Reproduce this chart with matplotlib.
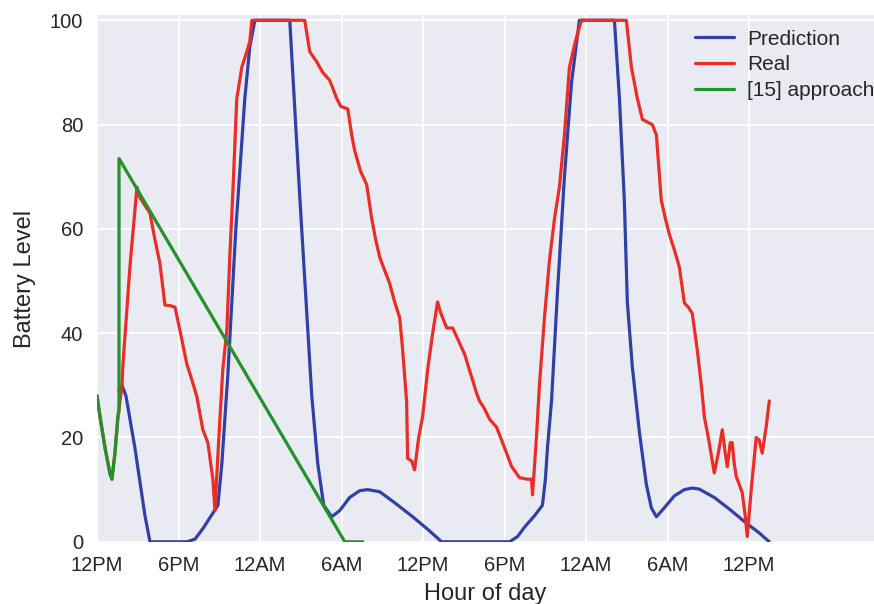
import matplotlib
matplotlib.use("Agg")
import matplotlib.pyplot as plt
import seaborn as sns

sns.set_style("darkgrid")
plt.rcParams['font.family'] = ['Liberation Sans', 'DejaVu Sans']

# Data (hours since 12PM on day 1)
pred_h = [1.6, 1.84, 2.13, 2.79, 3.53, 3.90, 6.62, 7.21, 7.79, 8.53, 8.90, 9.19, 9.63, 10.22,
          10.88, 11.25, 11.62, 14.19, 14.93, 15.81, 16.25, 16.69, 17.28, 17.87, 18.60, 19.34,
          19.93, 20.81, 21.91, 23.24, 24.34, 25.37, 30.37, 30.96, 31.47, 32.21, 32.79, 33.01,
          33.16, 33.46, 33.90, 34.41, 34.93, 35.51, 38.09, 38.46, 38.82, 39.04, 39.41, 39.93,
          40.44, 40.81, 41.18, 41.76, 42.50, 43.24, 43.82, 44.34, 45.44, 46.54, 47.79, 48.75, 49.49]
pred_v = [29, 30, 28, 18, 5, 0, 0, 0.5, 2.5, 5.5, 7, 15, 32, 60,
          85, 95, 100, 100, 66, 28, 15, 7, 4.8, 6, 8.5, 9.8,
          10, 9.6, 7.5, 4.8, 2.4, 0, 0, 1, 2.8, 5, 7, 12,
          18, 27, 48, 70, 88, 100, 100, 85, 65.5, 46, 33.5, 21,
          11, 6.5, 4.8, 6.5, 8.8, 10, 10.3, 10.1, 8.5, 6.3, 3.6, 1.7, 0]

real_h = [0, 0.22, 0.59, 0.96, 1.10, 1.32, 1.54, 1.69, 1.84, 1.91, 2.43, 2.94, 3.16, 3.53,
          3.90, 4.26, 4.63, 5.00, 5.37, 5.74, 6.10, 6.62, 6.99, 7.35, 7.79, 8.16, 8.53, 8.68,
          8.97, 9.26, 9.56, 9.78, 10.0, 10.29, 10.66, 11.03, 11.25, 11.40, 15.29, 15.66, 16.18,
          16.62, 17.13, 17.65, 17.94, 18.46, 18.75, 18.97, 19.41, 19.85, 20.22, 20.51, 20.81,
          21.18, 21.54, 21.91, 22.28, 22.50, 22.79, 22.87, 23.16, 23.38, 23.68, 23.97, 24.34,
          24.71, 25.07, 25.29, 25.74, 26.18, 26.62, 27.06, 27.35, 27.65, 27.94, 28.16, 28.53,
          28.90, 29.41, 29.78, 30.15, 30.51, 31.10, 31.69, 31.99, 32.06, 32.35, 32.57, 32.94,
          33.31, 33.68, 34.04, 34.41, 34.78, 35.22, 35.66, 38.97, 39.34, 39.78, 40.15, 40.51,
          40.88, 41.18, 41.54, 41.84, 42.13, 42.50, 42.87, 43.24, 43.53, 43.82, 44.19, 44.49,
          44.71, 45.07, 45.44, 45.74, 46.03, 46.25, 46.40, 46.62, 46.76, 46.91, 47.06, 47.28,
          47.50, 47.72, 47.87, 48.16, 48.53, 48.75, 48.97, 49.26, 49.49]
real_v = [28, 24, 18, 13, 12, 17, 24, 27, 30, 34, 53, 68, 66, 64.5,
          63, 58, 53.4, 45.4, 45.3, 45, 40.6, 34, 31, 27.8, 21.5, 19, 12, 6,
          20, 33, 40.6, 55, 67, 85, 91, 94, 96, 100, 100, 94, 92,
          90, 88.5, 85, 83.5, 83, 78, 75, 71, 68.5, 62, 58, 54.6,
          52, 49.6, 46, 43, 36.8, 27, 16, 15.5, 13.8, 20, 24, 33,
          40, 46, 44, 41, 41, 38.5, 36, 33.5, 31, 28.5, 27, 25.5,
          23.5, 22, 19.5, 17, 14.5, 12.3, 12, 12, 9, 20, 30, 43,
          54, 62, 68, 78, 91, 96, 100, 100, 91, 85, 81, 80.5,
          80, 78, 65.5, 62, 59, 56, 52.7, 45.8, 45, 43.8, 36.8, 30,
          24, 19, 13.2, 17, 21.5, 17, 14.4, 19, 19, 15, 12.5, 11,
          9.4, 5, 1, 10, 20, 19.5, 17, 22, 27]

base_h = [0, 0.22, 0.59, 0.96, 1.10, 1.32, 1.54, 1.62, 1.62, 18.24, 19.56]
base_v = [28, 24, 18, 13, 12, 17, 24, 25, 73.5, 0, 0]

tick_pos = [0, 6, 12, 18, 24, 30, 36, 42, 48]
tick_lab = ['12PM', '6PM', '12AM', '6AM', '12PM', '6PM', '12AM', '6AM', '12PM']

fig = plt.figure(figsize=(8.74, 6.04), dpi=100)
ax = fig.add_axes([0.111, 0.103, 0.889, 0.872])
ax.set_facecolor('#EAEAF2')

lw = 2.3
ax.plot(pred_h, pred_v, color='#3140a8', lw=lw, label='Prediction')
ax.plot(real_h, real_v, color='#ec2d26', lw=lw, label='Real')
ax.plot(base_h, base_v, color='#22922a', lw=lw, label='[15] approach')

ax.set_xlim(0, 57.2)
ax.set_ylim(0, 101)
ax.set_xticks(tick_pos)
ax.set_xticklabels(tick_lab)
ax.set_yticks([0, 20, 40, 60, 80, 100])
ax.tick_params(axis='both', labelsize=14.5, pad=10, length=0)
ax.set_xlabel('Hour of day', fontsize=17, labelpad=6)
ax.set_ylabel('Battery Level', fontsize=17, labelpad=10)
ax.grid(True, color='white', lw=1.3)
for s in ax.spines.values():
    s.set_visible(False)

leg = ax.legend(loc='upper left', bbox_to_anchor=(0.795, 0.951), bbox_transform=fig.transFigure,
                frameon=False, fontsize=15, handlelength=1.9, handletextpad=0.6,
                labelspacing=0.32, borderaxespad=0, borderpad=0)

fig.savefig('out.png', dpi=100)
